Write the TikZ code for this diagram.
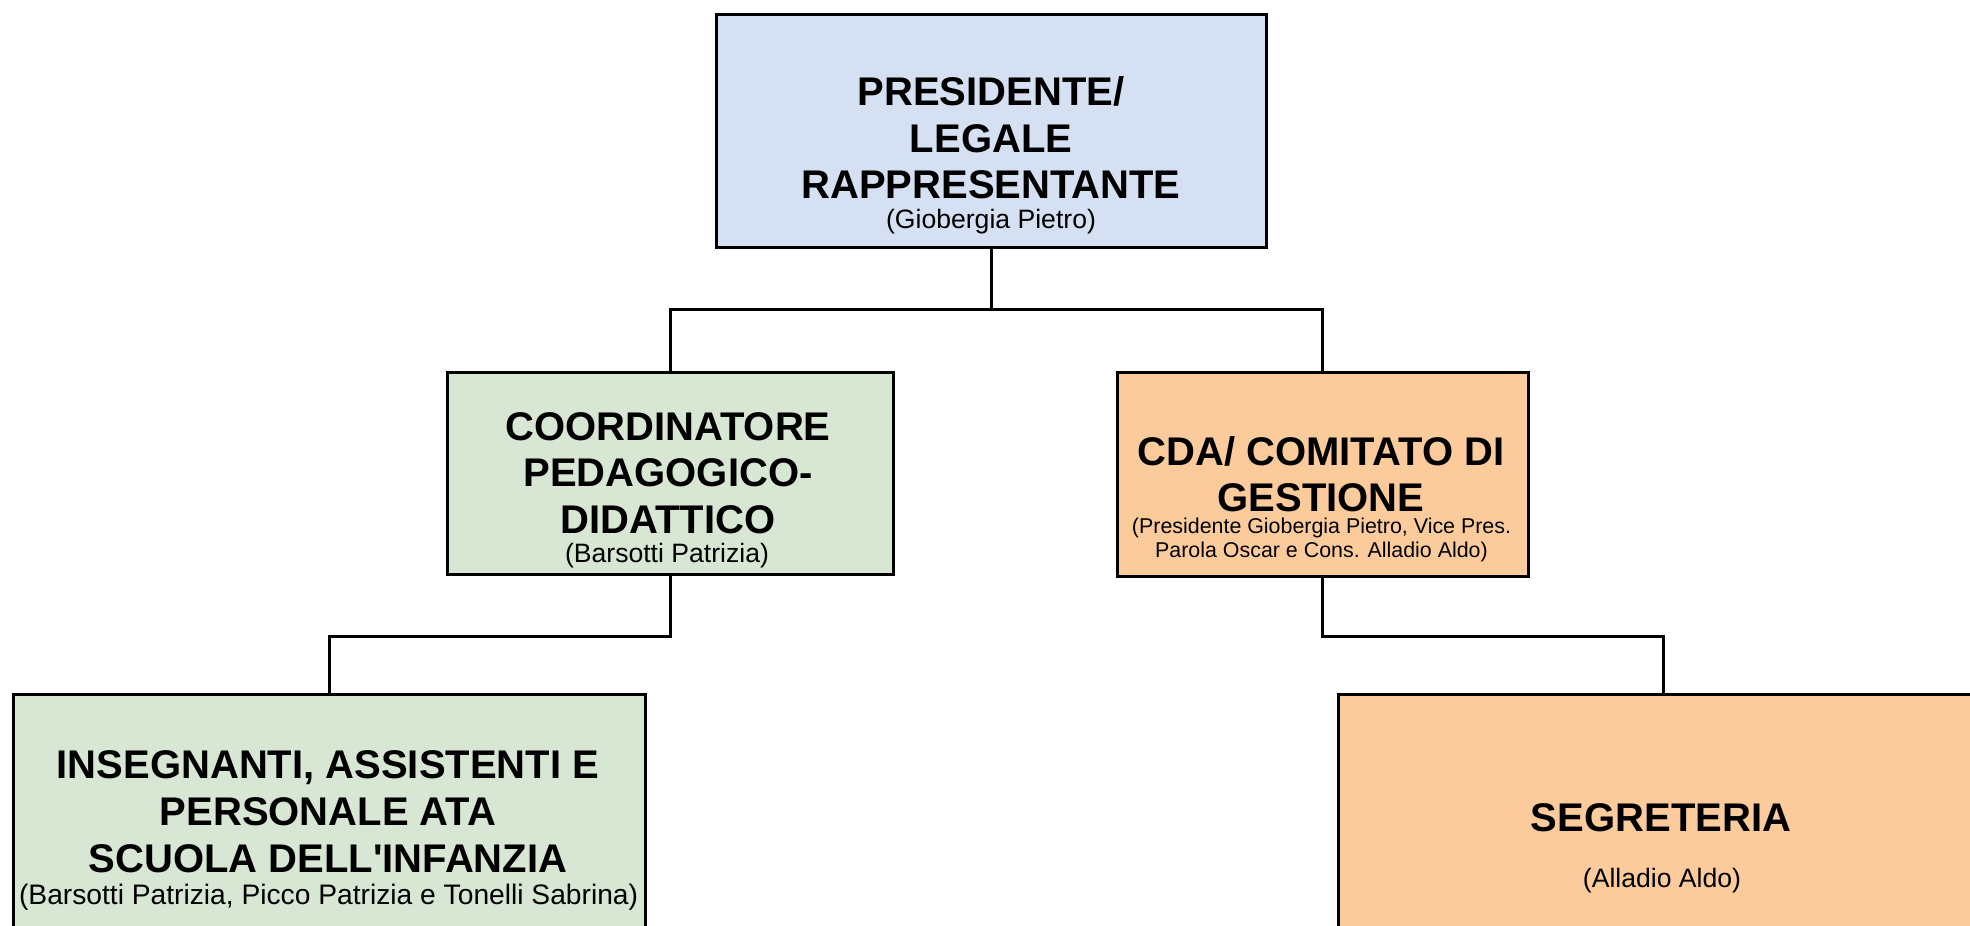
\documentclass[tikz,border=0pt]{standalone}
\usepackage{fontspec}
\setmainfont{Liberation Sans}
\definecolor{ChartBlue}{HTML}{D5E0F2}
\definecolor{ChartGreen}{HTML}{D8E6D4}
\definecolor{ChartOrange}{HTML}{FCCB9C}

\begin{document}
\begin{tikzpicture}[
    declare function={px=0.5;},
    x=px*1pt,y=-px*1pt,line width=1.5pt,
    unit color/.code={\colorlet{unitcolor}{#1}},
    unit color=ChartBlue,
    unit/.style args={#1,#2 from #3 to #4}{%
            draw,fill=unitcolor,
            at={(#1,#3)},anchor=north west,
            inner sep=0pt,outer sep=0pt,
            minimum width={(#2-#1)*px*1pt},
            minimum height={(#4-#3)*px*1pt}},
    role/.style={align=center,inner sep=0pt,
            font=\bfseries\fontsize{20}{23.3}\selectfont},
    who/.style={align=center,anchor=base,inner sep=0pt,
            font=\fontsize{13.3}{16}\selectfont}]
    \clip (0,0) rectangle (1970,926);
    \path node[unit={716,1266 from 14 to 247}] (pres) {}
          node[unit color=ChartGreen,unit={447,893 from 372 to 574}] (coord) {}
          node[unit color=ChartOrange,unit={1117,1528 from 372 to 576}] (cda) {}
          node[unit color=ChartGreen,unit={13,645 from 694 to 960}] (staff) {}
          node[unit color=ChartOrange,unit={1338,1988 from 694 to 960}] (segr) {};
    \coordinate (top split) at (991,309);
    \coordinate (left split) at (670,636);
    \coordinate (right split) at (1322.5,636);
    \draw (pres.south) -- (top split);
    \draw (coord.north) |- (top split) -| (cda.north);
    \draw (coord.south) -- (left split) -| (staff.north);
    \draw (cda.south) -- (right split) -| (segr.north);
    \path (991,137.8) node[role] (pres title) {PRESIDENTE/\\LEGALE\\RAPPRESENTANTE}
          (991,228.7) node[who] (pres who) {(Giobergia Pietro)}
          (668,473) node[role] (coord title) {COORDINATORE\\PEDAGOGICO-\\DIDATTICO}
          (667,562) node[who] (coord who) {(Barsotti Patrizia)}
          (1321,474.2) node[role] (cda title) {CDA/ COMITATO DI\\GESTIONE}
          (1321.5,540.3) node[who,anchor=center,font=\fontsize{10.7}{12}\selectfont] (cda who)
             {(Presidente Giobergia Pietro, Vice Pres.\\Parola Oscar e Cons. Alladio Aldo)}
          (328,811.7) node[role] (staff title)
             {INSEGNANTI, ASSISTENTI E\\PERSONALE ATA\\SCUOLA DELL\textquotesingle INFANZIA}
          (328.6,904.6) node[who,font=\fontsize{14.1}{16}\selectfont] (staff who)
             {(Barsotti Patrizia, Picco Patrizia e Tonelli Sabrina)}
          (1661,831.7) node[role,anchor=base] (segr title) {SEGRETERIA}
          (1662,887) node[who] (segr who) {(Alladio Aldo)};
\end{tikzpicture}
\end{document}
